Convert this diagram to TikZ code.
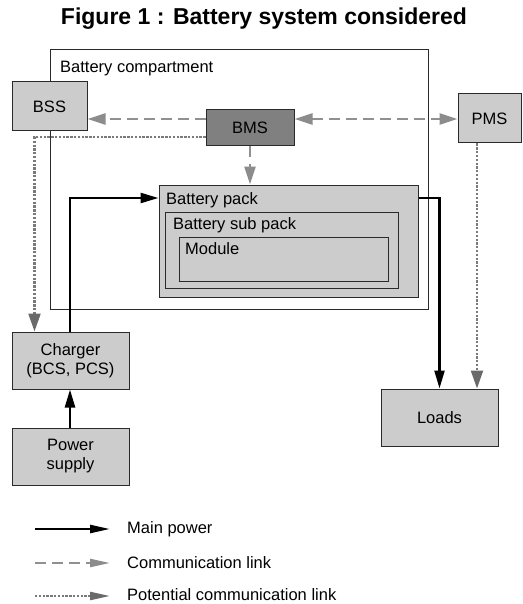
\documentclass[tikz,border=0pt]{standalone}
\usepackage{fontspec}
\setmainfont{Liberation Sans}
\usetikzlibrary{arrows.meta,calc}
\definecolor{boxfill}{HTML}{CCCCCC}
\definecolor{bmsfill}{HTML}{808080}
\definecolor{boxline}{HTML}{2A2A2A}
\definecolor{commgray}{HTML}{909090}
\definecolor{commhead}{HTML}{8C8C8C}
\definecolor{potgray}{HTML}{7A7A7A}
\definecolor{pothead}{HTML}{6A6A6A}
\tikzset{
  x=1pt, y=-1pt,
  every node/.style={font=\fontsize{16.5}{19}\selectfont, inner sep=0pt},
  blk/.style={draw=boxline, line width=1pt, fill=boxfill, align=center},
  frame/.style={draw=boxline, line width=1pt},
  lbl/.style={anchor=base west},
  power/.style={line width=2.4pt, black, -{Triangle[length=18pt,width=10pt]}},
  comm/.style={line width=2.3pt, commgray, dash pattern=on 11pt off 6pt, -{Triangle[length=18pt,width=11pt,color=commhead]}},
  commboth/.style={line width=2.3pt, commgray, dash pattern=on 11pt off 6pt, {Triangle[length=18pt,width=11pt,color=commhead]}-{Triangle[length=18pt,width=11pt,color=commhead]}},
  pot/.style={line width=2.3pt, potgray, dash pattern=on 2.3pt off 1.5pt, -{Triangle[length=18pt,width=12pt,color=pothead]}},
}
\begin{document}
\begin{tikzpicture}
\useasboundingbox (0,0) rectangle (522,604);
% title
\node[font=\fontsize{23}{26}\selectfont\bfseries] (title) at (264,19) {Figure 1 : Battery system considered};
% compartment
\node[frame, minimum width=378pt, minimum height=259pt] (comp) at (239,179.5) {};
\node[lbl] (complbl) at (60,73) {Battery compartment};
% pack hierarchy
\node[blk, minimum width=259pt, minimum height=112pt] (pack) at (288.5,241) {};
\node[lbl] (packlbl) at (166,204) {Battery pack};
\node[frame, minimum width=233pt, minimum height=76pt] (sub) at (281.5,250) {};
\node[lbl] (sublbl) at (173,229) {Battery sub pack};
\node[frame, minimum width=209pt, minimum height=44pt] (mod) at (283.5,259) {};
\node[lbl] (modlbl) at (185,254) {Module};
% blocks
\node[blk, minimum width=75pt, minimum height=49pt] (bss) at (49.5,106.5) {BSS};
\node[blk, fill=bmsfill, minimum width=88pt, minimum height=36pt] (bms) at (250,128) {BMS};
\node[blk, minimum width=63pt, minimum height=49pt] (pms) at (489.5,118.5) {PMS};
\node[blk, minimum width=117pt, minimum height=57pt] (charger) at (70.5,360.5) {Charger\\(BCS, PCS)};
\node[blk, minimum width=117pt, minimum height=57pt] (loads) at (439.5,417.5) {Loads};
\node[blk, minimum width=117pt, minimum height=57pt] (supply) at (70.5,456.5) {Power\\supply};
% communication links
\draw[comm] ([yshift=9pt]bms.west) -- ([yshift=9pt]bms.west -| bss.east);
\draw[commboth] ([yshift=9pt]bms.east) -- ([yshift=9pt]bms.east -| pms.west);
\draw[comm] (bms.south) -- (bms.south |- pack.north);
% potential links
\coordinate (chin) at ([xshift=23pt]charger.north west);
\draw[pot] ([yshift=-9pt]bms.west) -| (chin);
\coordinate (pmsout) at ([xshift=-12.5pt]pms.south);
\draw[pot] (pmsout) -- (pmsout |- loads.north);
% main power
\draw[power] ([xshift=-0.5pt]charger.north) |- ([yshift=43pt]pack.west);
\draw[power] ([yshift=43pt]pack.east) -| (loads.north);
\draw[power] ([xshift=-0.5pt]supply.north) -- ([xshift=-0.5pt]charger.south);
% legend
\coordinate (l1a) at (35,529); \coordinate (l1b) at (110,529);
\coordinate (l2a) at (35,563); \coordinate (l2b) at (110,563);
\coordinate (l3a) at (35,596); \coordinate (l3b) at (110,596);
\draw[power, -{Triangle[length=20pt,width=8pt]}] (l1a) -- (l1b);
\draw[comm, -{Triangle[length=20pt,width=8pt,color=commhead]}] (l2a) -- (l2b);
\draw[pot, -{Triangle[length=20pt,width=8pt,color=pothead]}] (l3a) -- (l3b);
\node[anchor=west] (t1) at (127,529) {Main power};
\node[anchor=west] (t2) at (127,563) {Communication link};
\node[anchor=west] (t3) at (127,594.5) {Potential communication link};
\end{tikzpicture}
\end{document}
